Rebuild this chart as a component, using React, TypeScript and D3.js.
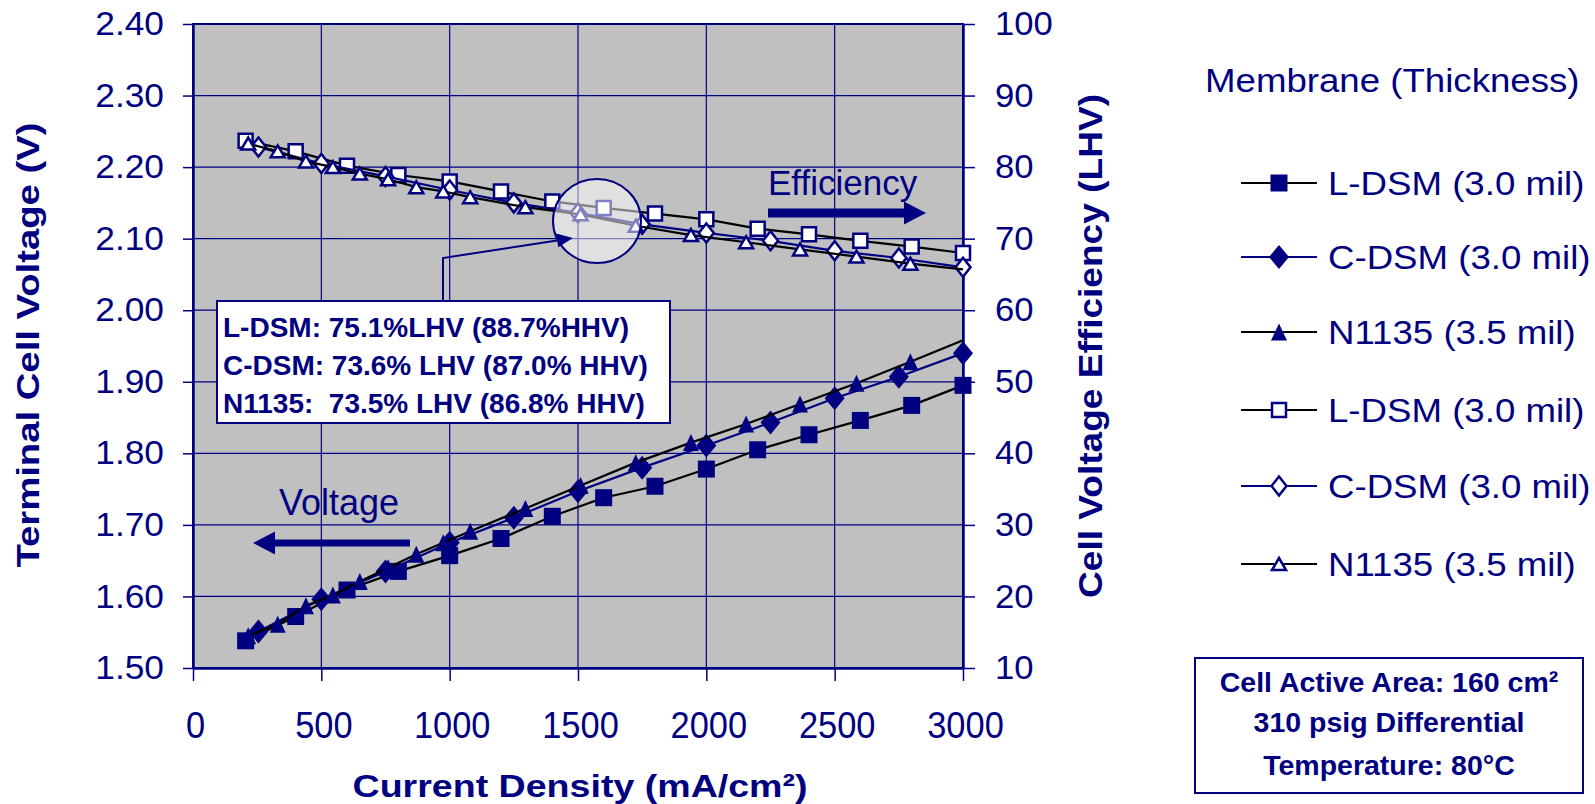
import React, { useEffect, useRef } from "react";
import * as d3 from "d3";

const navy = "#000080";
const font = "'Liberation Sans', Arial, Helvetica, sans-serif";

// L-DSM (3.0 mil): current density (mA/cm2), cell voltage (V), efficiency (% LHV)
const ldsmCurrent = [205, 400, 600, 800, 1000, 1200, 1400, 1600, 1800, 2000, 2200, 2400, 2600, 2800, 3000];
const ldsmVolts = [1.538, 1.572, 1.609, 1.635, 1.657, 1.681, 1.712, 1.738, 1.754, 1.778, 1.805, 1.826, 1.846, 1.867, 1.895];
const ldsmEff = [83.7, 82.2, 80.2, 78.9, 78.0, 76.6, 75.2, 74.3, 73.5, 72.7, 71.4, 70.6, 69.7, 68.9, 68.0];

// C-DSM (3.0 mil)
const cdsmCurrent = [255, 500, 750, 1000, 1250, 1500, 1750, 2000, 2250, 2500, 2750, 3000];
const cdsmVolts = [1.551, 1.596, 1.635, 1.675, 1.71, 1.747, 1.78, 1.811, 1.843, 1.877, 1.907, 1.94];
const cdsmEff = [82.8, 80.5, 78.7, 76.8, 75.0, 73.6, 72.0, 70.8, 69.7, 68.3, 67.3, 66.0];

// N1135 (3.5 mil)
const n1135Current = [215, 330, 440, 545, 650, 760, 870, 975, 1080, 1295, 1510, 1725, 1940, 2155, 2365, 2585, 2795];
const n1135Volts = [1.545, 1.561, 1.587, 1.602, 1.621, 1.64, 1.659, 1.675, 1.691, 1.723, 1.755, 1.787, 1.815, 1.841, 1.869, 1.898, 1.928];
const n1135Eff = [83.3, 82.2, 80.8, 80.0, 79.1, 78.3, 77.2, 76.6, 75.8, 74.4, 73.4, 71.8, 70.5, 69.5, 68.5, 67.5, 66.5];
// N1135 lines run on to the right edge, no marker there
const n1135EndCurrent = 3000;
const n1135EndVolts = 1.958;
const n1135EndEff = 65.7;

const currentTicks = [0, 500, 1000, 1500, 2000, 2500, 3000];
const voltTicks = [1.5, 1.6, 1.7, 1.8, 1.9, 2.0, 2.1, 2.2, 2.3, 2.4];
const effTicks = [10, 20, 30, 40, 50, 60, 70, 80, 90, 100];

const legendTitle = "Membrane (Thickness)";
const legendLabels = ["L-DSM (3.0 mil)", "C-DSM (3.0 mil)", "N1135 (3.5 mil)", "L-DSM (3.0 mil)", "C-DSM (3.0 mil)", "N1135 (3.5 mil)"];
const noteLines = ["L-DSM: 75.1%LHV (88.7%HHV)", "C-DSM: 73.6% LHV (87.0% HHV)", "N1135:  73.5% LHV (86.8% HHV)"];
const infoLines = ["Cell Active Area: 160 cm²", "310 psig Differential", "Temperature: 80°C"];

const zip = (a: number[], b: number[]) => a.map((v, i) => [v, b[i]] as [number, number]);

function markerPath(shape: string, filled: boolean) {
  const p = d3.path();
  let w = 16, h = 16;
  if (shape === "square") { w = filled ? 17 : 14; h = w; }
  if (shape === "diamond") { w = filled ? 20 : 15; h = filled ? 24 : 19; }
  if (shape === "triangle") { w = filled ? 16 : 14; h = filled ? 17 : 12; }
  if (shape === "square") {
    p.rect(-w / 2, -h / 2, w, h);
  } else if (shape === "diamond") {
    p.moveTo(0, -h / 2); p.lineTo(w / 2, 0); p.lineTo(0, h / 2); p.lineTo(-w / 2, 0); p.closePath();
  } else {
    p.moveTo(0, -h / 2); p.lineTo(w / 2, h / 2); p.lineTo(-w / 2, h / 2); p.closePath();
  }
  return p.toString();
}

// stretch text horizontally like the original (scanned) figure
function stretch(sel: any, sx: number) {
  sel.each(function (this: SVGTextElement) {
    const w = this.getComputedTextLength();
    this.setAttribute("textLength", String(w * sx));
    this.setAttribute("lengthAdjust", "spacingAndGlyphs");
  });
}

export default function App() {
  const svgRef = useRef<SVGSVGElement>(null);

  useEffect(() => {
    const svg = d3.select(svgRef.current);
    svg.selectAll("*").remove();

    const L = 193, R = 963, T = 24, B = 668;
    const x = d3.scaleLinear().domain([0, 3000]).range([L, R]);
    const yV = d3.scaleLinear().domain([1.5, 2.4]).range([B, T]);
    const yE = d3.scaleLinear().domain([10, 100]).range([B, T]);

    svg.append("rect").attr("x", L).attr("y", T).attr("width", R - L).attr("height", B - T).attr("fill", "#c0c0c0");

    const grid = svg.append("g").attr("stroke", navy).attr("stroke-width", 1.2);
    grid.selectAll("line.gv").data(currentTicks).join("line").attr("class", "gv")
      .attr("x1", d => x(d)).attr("x2", d => x(d)).attr("y1", T).attr("y2", B);
    grid.selectAll("line.gh").data(voltTicks).join("line").attr("class", "gh")
      .attr("x1", L).attr("x2", R).attr("y1", d => yV(d)).attr("y2", d => yV(d));

    const styleAxis = (g: any, fs: number) => {
      g.select(".domain").attr("stroke", navy).attr("stroke-width", 2.5);
      g.selectAll(".tick line").attr("stroke", navy).attr("stroke-width", 1.5);
      g.selectAll(".tick text").attr("fill", navy).attr("font-size", fs).attr("font-family", font);
    };

    const gl = svg.append("g").attr("transform", `translate(${L},0)`)
      .call(d3.axisLeft(yV).tickValues(voltTicks).tickFormat(d3.format(".2f")).tickSize(10).tickSizeOuter(0).tickPadding(19));
    styleAxis(gl, 33);
    stretch(gl.selectAll(".tick text"), 1.07);

    const gr = svg.append("g").attr("transform", `translate(${R},0)`)
      .call(d3.axisRight(yE).tickValues(effTicks).tickFormat(d3.format("d")).tickSize(12).tickSizeOuter(0).tickPadding(20));
    styleAxis(gr, 33);
    stretch(gr.selectAll(".tick text"), 1.05);

    const gb = svg.append("g").attr("transform", `translate(0,${B})`)
      .call(d3.axisBottom(x).tickValues(currentTicks).tickFormat(d3.format("d")).tickSize(13).tickSizeOuter(0));
    styleAxis(gb, 37);
    gb.selectAll(".tick text").attr("y", 70).attr("dy", "0").attr("dx", 2);
    stretch(gb.selectAll(".tick text"), 0.93);

    svg.append("rect").attr("x", L).attr("y", T).attr("width", R - L).attr("height", B - T)
      .attr("fill", "none").attr("stroke", navy).attr("stroke-width", 2);

    const series = [
      { pts: zip(ldsmCurrent, ldsmVolts), end: null, y: yV, shape: "square", filled: true, stroke: "#000" },
      { pts: zip(cdsmCurrent, cdsmVolts), end: null, y: yV, shape: "diamond", filled: true, stroke: navy },
      { pts: zip(n1135Current, n1135Volts), end: [n1135EndCurrent, n1135EndVolts], y: yV, shape: "triangle", filled: true, stroke: "#000" },
      { pts: zip(ldsmCurrent, ldsmEff), end: null, y: yE, shape: "square", filled: false, stroke: "#000" },
      { pts: zip(cdsmCurrent, cdsmEff), end: null, y: yE, shape: "diamond", filled: false, stroke: navy },
      { pts: zip(n1135Current, n1135Eff), end: [n1135EndCurrent, n1135EndEff], y: yE, shape: "triangle", filled: false, stroke: "#000" },
    ];

    series.forEach(s => {
      const line = d3.line<[number, number]>().x(d => x(d[0])).y(d => s.y(d[1]));
      const linePts = s.end ? [...s.pts, s.end as [number, number]] : s.pts;
      svg.append("path").datum(linePts).attr("d", line)
        .attr("fill", "none").attr("stroke", s.stroke).attr("stroke-width", 2.2);
      svg.append("g").selectAll("path").data(s.pts).join("path")
        .attr("transform", d => `translate(${x(d[0])},${s.y(d[1])})`)
        .attr("d", markerPath(s.shape, s.filled))
        .attr("fill", s.filled ? navy : "#fff")
        .attr("stroke", navy).attr("stroke-width", s.filled ? 0 : 2.5);
    });

    // highlight circle
    svg.append("ellipse").attr("cx", 597).attr("cy", 221).attr("rx", 44).attr("ry", 42)
      .attr("fill", "#fff").attr("fill-opacity", 0.5).attr("stroke", navy).attr("stroke-width", 2);

    // callout arrow from the note box to the circle
    const tip = [573, 238], corner = [443, 258];
    const len = Math.hypot(tip[0] - corner[0], tip[1] - corner[1]);
    const ux = (tip[0] - corner[0]) / len, uy = (tip[1] - corner[1]) / len;
    const bx = tip[0] - 16 * ux, by = tip[1] - 16 * uy;
    svg.append("path").attr("d", `M443,301V${corner[1]}L${bx},${by}`)
      .attr("fill", "none").attr("stroke", navy).attr("stroke-width", 2);
    svg.append("path")
      .attr("d", `M${tip[0]},${tip[1]}L${bx - 7 * uy},${by + 7 * ux}L${bx + 7 * uy},${by - 7 * ux}Z`)
      .attr("fill", navy);

    // note box
    svg.append("rect").attr("x", 217).attr("y", 301).attr("width", 453).attr("height", 122)
      .attr("fill", "#fff").attr("stroke", navy).attr("stroke-width", 2);
    svg.append("g").selectAll("text").data(noteLines).join("text")
      .attr("x", 223).attr("y", (d, i) => 327 + i * 38).attr("dy", "0.35em")
      .attr("font-family", font).attr("font-weight", "bold").attr("font-size", 28)
      .attr("fill", navy).style("white-space", "pre").text(d => d);

    // Efficiency / Voltage labels with block arrows
    svg.append("text").attr("x", 768).attr("y", 183).attr("dy", "0.35em")
      .attr("font-family", font).attr("font-size", 35).attr("fill", navy).text("Efficiency");
    svg.append("path").attr("d", "M768,208.5H904V201.5L926,213L904,224.5V217.5H768Z").attr("fill", navy);
    svg.append("text").attr("x", 279).attr("y", 502).attr("dy", "0.35em")
      .attr("font-family", font).attr("font-size", 36).attr("fill", navy).text("Voltage");
    svg.append("path").attr("d", "M410,539.5H275V531.5L253,543L275,554.5V546.5H410Z").attr("fill", navy);

    // axis titles
    const title = (t: string, tx: number, ty: number, rot: number, w: number, fs: number) =>
      svg.append("text").attr("transform", `translate(${tx},${ty}) rotate(${rot})`)
        .attr("text-anchor", "middle").attr("dy", "0.35em")
        .attr("font-family", font).attr("font-weight", "bold").attr("font-size", fs).attr("fill", navy)
        .attr("textLength", w).attr("lengthAdjust", "spacingAndGlyphs").text(t);
    title("Terminal Cell Voltage (V)", 28, 345, -90, 445, 32);
    title("Cell Voltage Efficiency (LHV)", 1090, 346, -90, 504, 33);
    title("Current Density (mA/cm²)", 580, 786, 0, 455, 32);

    // legend
    const lt = svg.append("text").attr("x", 1205).attr("y", 80).attr("dy", "0.35em")
      .attr("font-family", font).attr("font-size", 33).attr("fill", navy).text(legendTitle);
    stretch(lt, 1.11);
    const rowY = [183, 257, 332, 410, 486, 564];
    legendLabels.forEach((lab, i) => {
      const s = series[i];
      const g = svg.append("g").attr("transform", `translate(0,${rowY[i]})`);
      g.append("line").attr("x1", 1241).attr("x2", 1317).attr("stroke", s.stroke).attr("stroke-width", 2);
      g.append("path").attr("transform", "translate(1279,0)").attr("d", markerPath(s.shape, s.filled))
        .attr("fill", s.filled ? navy : "#fff").attr("stroke", navy).attr("stroke-width", s.filled ? 0 : 2.5);
      const t = g.append("text").attr("x", 1328).attr("dy", "0.35em")
        .attr("font-family", font).attr("font-size", 33).attr("fill", navy).text(lab);
      stretch(t, 1.11);
    });

    // conditions box
    svg.append("rect").attr("x", 1195).attr("y", 658).attr("width", 388).attr("height", 135)
      .attr("fill", "#fff").attr("stroke", navy).attr("stroke-width", 2);
    svg.append("g").selectAll("text").data(infoLines).join("text")
      .attr("x", 1389).attr("y", (d, i) => [682, 722, 765][i]).attr("dy", "0.35em")
      .attr("text-anchor", "middle").attr("font-family", font).attr("font-weight", "bold")
      .attr("font-size", 28.5).attr("fill", navy).text(d => d);
  }, []);

  return (
    <svg ref={svgRef} width={1595} height={804}
      style={{ position: "absolute", left: 0, top: 0, background: "#fff", display: "block" }} />
  );
}
